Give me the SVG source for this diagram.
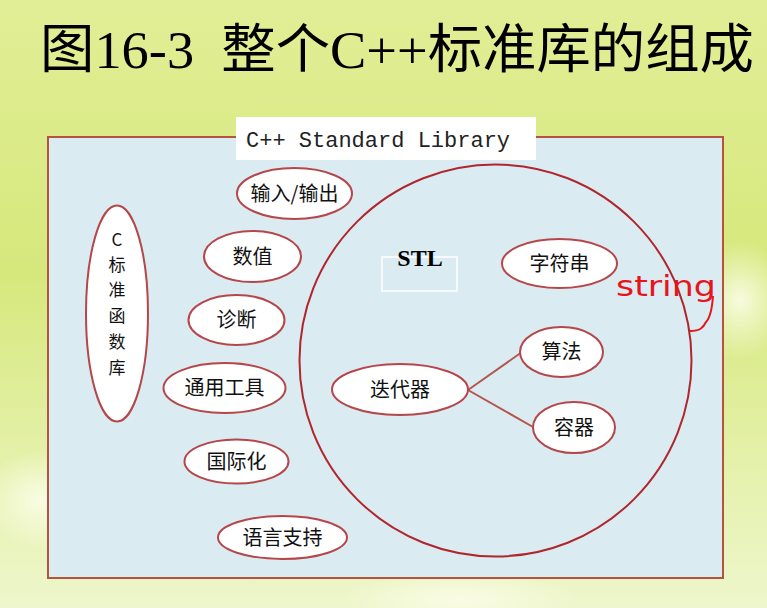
<svg xmlns="http://www.w3.org/2000/svg" width="767" height="608" viewBox="0 0 767 608">
  <defs>
    <linearGradient id="bg" x1="0" y1="0" x2="0" y2="1">
      <stop offset="0" stop-color="#e2ee96"/>
      <stop offset="0.45" stop-color="#d6e87c"/>
      <stop offset="0.8" stop-color="#e6f2b0"/>
      <stop offset="1" stop-color="#eef6cc"/>
    </linearGradient>
    <radialGradient id="glowL" cx="0.5" cy="0.5" r="0.5">
      <stop offset="0" stop-color="#fbfde8" stop-opacity="0.9"/>
      <stop offset="1" stop-color="#fbfde8" stop-opacity="0"/>
    </radialGradient>
    <style>
      .cjk { font-family: "Noto Sans CJK SC", sans-serif; font-size: 20px; fill: #111; text-anchor: middle; }
      .col { font-family: "Noto Sans CJK SC", sans-serif; font-size: 17px; fill: #111; text-anchor: middle; }
      .node { fill: #ffffff; stroke: #b5464a; stroke-width: 2; }
      .link { stroke: #b5564e; stroke-width: 2; fill: none; }
    </style>
  </defs>

  <!-- backdrop -->
  <rect x="0" y="0" width="767" height="608" fill="url(#bg)"/>
  <ellipse cx="40" cy="500" rx="60" ry="50" fill="url(#glowL)"/>
  <ellipse cx="740" cy="300" rx="50" ry="60" fill="url(#glowL)"/>
  <ellipse cx="460" cy="600" rx="120" ry="30" fill="url(#glowL)"/>

  <!-- title -->
  <text x="40" y="68" xml:space="preserve" style="white-space:pre" font-family="'Liberation Serif', 'Noto Sans CJK SC', serif" font-size="53" fill="#000" textLength="714" lengthAdjust="spacingAndGlyphs">图16-3  整个C++标准库的组成</text>

  <!-- library frame -->
  <rect x="48" y="137" width="675" height="441" fill="#daebf1" stroke="#b5543e" stroke-width="2"/>
  <rect x="236" y="117" width="300" height="43" fill="#ffffff"/>
  <text x="246" y="147" font-family="'Liberation Mono', monospace" font-size="22" fill="#222">C++ Standard Library</text>

  <!-- STL region -->
  <g id="stl">
    <circle cx="495.5" cy="360.5" r="196" fill="none" stroke="#b0262c" stroke-width="2"/>
    <rect x="382" y="257" width="75" height="34" fill="none" stroke="#ffffff" stroke-width="1.5"/>
    <text x="420" y="266" font-family="'Liberation Serif', serif" font-weight="bold" font-size="24" fill="#000" text-anchor="middle">STL</text>
  </g>

  <!-- connectors -->
  <g id="connectors">
    <line class="link" x1="468" y1="390" x2="522" y2="352"/>
    <line class="link" x1="468" y1="390" x2="533" y2="427"/>
  </g>

  <!-- nodes -->
  <g id="c-lib">
    <ellipse class="node" cx="117" cy="313.5" rx="31" ry="108"/>
    <text class="col" x="117" y="246" font-family="'Liberation Serif', serif" font-size="19">C</text>
    <text class="col" x="117" y="271">标</text>
    <text class="col" x="117" y="296">准</text>
    <text class="col" x="117" y="322">函</text>
    <text class="col" x="117" y="348">数</text>
    <text class="col" x="117" y="374">库</text>
  </g>
  <g id="io">
    <ellipse class="node" cx="294.5" cy="193.5" rx="57.5" ry="25.5"/>
    <text class="cjk" x="294.5" y="200.5">输入/输出</text>
  </g>
  <g id="numeric">
    <ellipse class="node" cx="252.5" cy="256.5" rx="48.5" ry="25.5"/>
    <text class="cjk" x="252.5" y="263.5">数值</text>
  </g>
  <g id="diagnostics">
    <ellipse class="node" cx="236.5" cy="320" rx="48" ry="25"/>
    <text class="cjk" x="236.5" y="327">诊断</text>
  </g>
  <g id="utilities">
    <ellipse class="node" cx="224.5" cy="388" rx="61" ry="25"/>
    <text class="cjk" x="224.5" y="395">通用工具</text>
  </g>
  <g id="locale">
    <ellipse class="node" cx="236.5" cy="461.5" rx="52" ry="22"/>
    <text class="cjk" x="236.5" y="468.5">国际化</text>
  </g>
  <g id="language">
    <ellipse class="node" cx="282.5" cy="537.5" rx="64.5" ry="21.5"/>
    <text class="cjk" x="282.5" y="544.5">语言支持</text>
  </g>
  <g id="string">
    <ellipse class="node" cx="559.5" cy="263.5" rx="57.5" ry="24.5"/>
    <text class="cjk" x="559.5" y="270.5">字符串</text>
  </g>
  <g id="iterator">
    <ellipse class="node" cx="400" cy="389.5" rx="68" ry="25.5"/>
    <text class="cjk" x="400" y="396.5">迭代器</text>
  </g>
  <g id="algorithm">
    <ellipse class="node" cx="561.5" cy="352" rx="41.5" ry="25"/>
    <text class="cjk" x="561.5" y="359">算法</text>
  </g>
  <g id="container">
    <ellipse class="node" cx="574" cy="427.5" rx="41" ry="25.5"/>
    <text class="cjk" x="574" y="434.5">容器</text>
  </g>

  <!-- handwritten note -->
  <g id="note">
    <text x="616" y="296" font-family="'DejaVu Sans', sans-serif" font-size="28" fill="#e8141c" textLength="100" lengthAdjust="spacingAndGlyphs">string</text>
    <path d="M713 296 C712 310 710 318 706 322 C703 328 700 331 690 331" fill="none" stroke="#e8141c" stroke-width="2"/>
  </g>
</svg>
